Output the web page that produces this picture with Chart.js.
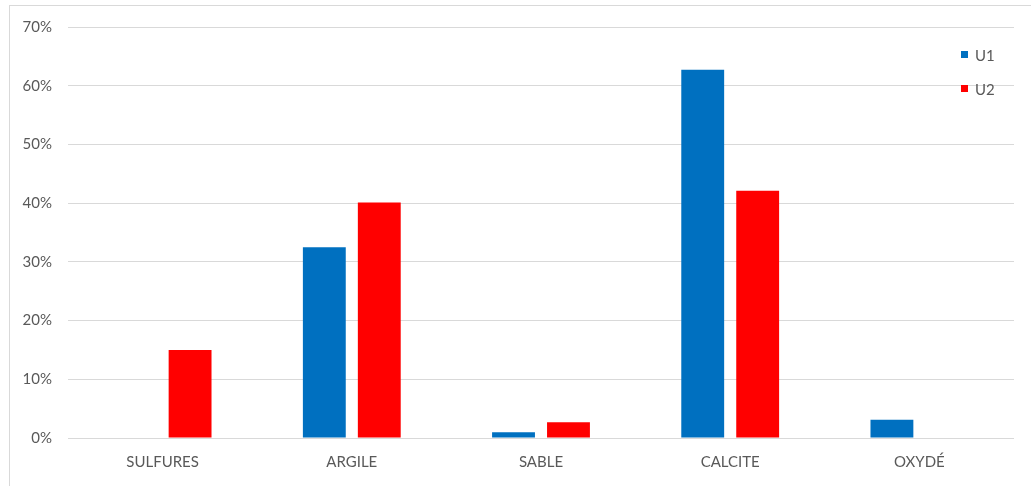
<!DOCTYPE html>
<html>
<head>
<meta charset="utf-8">
<script src="https://cdn.jsdelivr.net/npm/chart.js@4/dist/chart.umd.min.js"></script>
<style>
  html, body { margin: 0; padding: 0; background: #fff; overflow: hidden; }
  .wrap { position: relative; width: 1031px; height: 486px; }
  .frame { position: absolute; left: 9px; top: 5px; width: 1100px; height: 600px; border: 1px solid #d9d9d9; }
  canvas { position: absolute; left: 0; top: 0; }
  .legend { position: absolute; left: 961px; top: 46px; margin: 0; padding: 0; list-style: none;
            font-family: Lato, "Open Sans", sans-serif; font-size: 15px; color: #595959; }
  .legend li { height: 34px; line-height: 18px; position: relative; padding-left: 14px; }
  .legend li span { position: absolute; left: 0; top: 5px; width: 7px; height: 7px; }
</style>
</head>
<body>
<div class="wrap">
  <div class="frame"></div>
  <canvas class="my-chart" width="1031" height="486"></canvas>
  <ul class="legend"></ul>
</div>
<script>
const categories = ["SULFURES", "ARGILE", "SABLE", "CALCITE", "OXYDÉ"];
const u1 = [0, 32.5, 1.0, 62.7, 3.1];
const u2 = [15.0, 40.1, 2.7, 42.1, 0];
const yTicks = [0, 10, 20, 30, 40, 50, 60, 70];

const grey = "#595959";
const font = { family: "Lato, 'Open Sans', sans-serif", size: 15 };

const myChart = document.querySelector(".my-chart");
const chart = new Chart(myChart, {
    type: "bar",
    data: {
        labels: categories,
        datasets: [
            { label: "U1", data: u1, backgroundColor: "#0070C0" },
            { label: "U2", data: u2, backgroundColor: "#FF0000" },
        ],
    },
    options: {
        responsive: false,
        animation: false,
        categoryPercentage: 0.581,
        barPercentage: 0.78,
        layout: { padding: { left: 0, right: 17, top: 27, bottom: 0 } },
        plugins: {
            legend: { display: false },
            tooltip: { enabled: false },
        },
        scales: {
            x: {
                grid: { display: false, drawTicks: false },
                border: { display: false },
                ticks: { color: grey, font: font, padding: 15, maxRotation: 0 },
                afterFit: (s) => { s.height = 48; },
            },
            y: {
                min: 0,
                max: 70,
                afterBuildTicks: (s) => { s.ticks = yTicks.map(v => ({ value: v })); },
                grid: { color: "#d9d9d9", lineWidth: 1, drawTicks: false },
                border: { display: false },
                ticks: { color: grey, font: font, padding: 16, callback: (v) => v + "%" },
                afterFit: (s) => { s.width = 68; },
            },
        },
    },
});

// legend on the right, like the original
const ul = document.querySelector(".legend");
const populateUl = () => {
    chart.data.datasets.forEach((d) => {
        let li = document.createElement("li");
        li.innerHTML = `<span style="background:${d.backgroundColor}"></span>${d.label}`;
        ul.appendChild(li);
    });
};
populateUl();
</script>
</body>
</html>
